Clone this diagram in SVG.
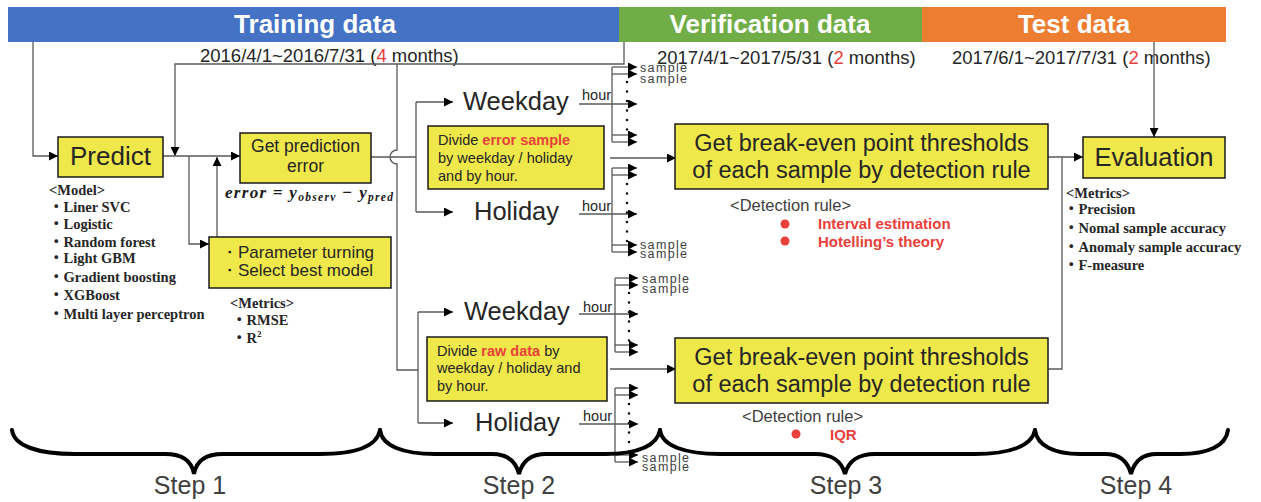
<svg xmlns="http://www.w3.org/2000/svg" width="1261" height="502" viewBox="0 0 1261 502">
<style>
.hdr{font-family:"Liberation Sans",Arial,sans-serif;font-weight:bold;font-size:26px;fill:#fff;text-anchor:middle}
.date{font-family:"Liberation Sans",Arial,sans-serif;font-size:18.5px;fill:#262626}
.red{fill:#E8403A}
.box{fill:#EFE84A;stroke:#1a1a1a;stroke-width:1.5}
.bt{font-family:"Liberation Sans",Arial,sans-serif;fill:#262626}
.ser{font-family:"Liberation Serif","Times New Roman","Noto Sans CJK JP",serif;font-weight:bold;font-size:14.5px;fill:#262626}
.cn{fill:none;stroke:#595959;stroke-width:1.3}
.ca{fill:none;stroke:#595959;stroke-width:1.3;marker-end:url(#arr)}
.dots{fill:none;stroke:#111;stroke-width:2.6;stroke-linecap:round;stroke-dasharray:0 9.5}
.smp{font-family:"Liberation Sans",Arial,sans-serif;font-size:12.5px;fill:#404040}
.brace{fill:none;stroke:#000;stroke-width:4;stroke-linecap:round}
.step{font-family:"Liberation Sans",Arial,sans-serif;font-size:25px;fill:#404040;text-anchor:middle}
.rule{font-family:"Liberation Sans",Arial,sans-serif;font-size:16.5px;fill:#404040}
.rb{font-family:"Liberation Sans",Arial,sans-serif;font-weight:bold;font-size:15px;fill:#E8403A}
</style>
<defs>
<marker id="arr" viewBox="0 0 10 10" refX="10" refY="5" markerWidth="9" markerHeight="9" markerUnits="userSpaceOnUse" orient="auto">
<path d="M0,0 L10,5 L0,10 z" fill="#000"/>
</marker>
</defs>

<g id="headers">
<rect x="8" y="7" width="611" height="35" fill="#4472C4"/>
<rect x="619" y="7" width="303" height="35" fill="#70AD47"/>
<rect x="922" y="7" width="304" height="35" fill="#ED7D31"/>
<text class="hdr" x="315" y="33">Training data</text>
<text class="hdr" x="770" y="33">Verification data</text>
<text class="hdr" x="1074" y="33">Test data</text>
<text class="date" x="200" y="62">2016/4/1~2016/7/31 (<tspan class="red">4</tspan> months)</text>
<text class="date" x="657" y="64">2017/4/1~2017/5/31 (<tspan class="red">2</tspan> months)</text>
<text class="date" x="952" y="64">2017/6/1~2017/7/31 (<tspan class="red">2</tspan> months)</text>
</g>

<g id="connectors">
<path class="ca" d="M33,42 V156 H58"/>
<path class="ca" d="M624,42 V64 H175 V156"/>
<path class="ca" d="M163,156 H240"/>
<path class="ca" d="M189,156 V244 H209"/>
<path class="ca" d="M217,237 V157"/>
<path class="cn" d="M371,157 H416"/>
<path class="cn" d="M397,64 V150 A7,7 0 0 0 397,164 V370 H418"/>
<path class="cn" d="M416,102 V212"/>
<path class="ca" d="M416,102 H453"/>
<path class="ca" d="M416,212 H453"/>
<path class="cn" d="M418,312 V423"/>
<path class="ca" d="M418,312 H453"/>
<path class="ca" d="M418,423 H453"/>
<path class="ca" d="M610,158 H676"/>
<path class="ca" d="M610,369 H676"/>
<path class="ca" d="M1048,157 H1083"/>
<path class="cn" d="M1048,369 H1062 V157"/>
<path class="ca" d="M1154,42 V137"/>
<!-- fan-out: top weekday -->
<path class="cn" d="M612,67 V142"/>
<path class="ca" d="M612,67 H637"/>
<path class="ca" d="M612,74 H637"/>
<path class="ca" d="M579,104 H637"/>
<path class="ca" d="M612,135 H637"/>
<path class="ca" d="M612,142 H637"/>
<path class="dots" d="M627,82 V133"/>
<!-- fan-out: top holiday -->
<path class="cn" d="M612,168 V252"/>
<path class="ca" d="M612,168 H637"/>
<path class="ca" d="M612,175 H637"/>
<path class="ca" d="M579,214 H637"/>
<path class="ca" d="M612,245 H637"/>
<path class="ca" d="M612,252 H637"/>
<path class="dots" d="M627,184 V243"/>
<!-- fan-out: bottom weekday -->
<path class="cn" d="M615,278 V352"/>
<path class="ca" d="M615,278 H638"/>
<path class="ca" d="M615,285 H638"/>
<path class="ca" d="M579,314 H638"/>
<path class="ca" d="M615,345 H638"/>
<path class="ca" d="M615,352 H638"/>
<path class="dots" d="M629,293 V343"/>
<!-- fan-out: bottom holiday -->
<path class="cn" d="M615,388 V462"/>
<path class="ca" d="M615,388 H638"/>
<path class="ca" d="M615,395 H638"/>
<path class="ca" d="M579,424 H638"/>
<path class="ca" d="M615,455 H638"/>
<path class="ca" d="M615,462 H638"/>
<path class="dots" d="M629,404 V453"/>
</g>

<g id="predict">
<rect class="box" x="58" y="137" width="105" height="40"/>
<text class="bt" x="110.5" y="165" font-size="26" text-anchor="middle">Predict</text>
<text class="ser" x="49" y="195">&lt;Model&gt;</text>
<text class="ser" x="49" y="212">・Liner SVC</text>
<text class="ser" x="49" y="229">・Logistic</text>
<text class="ser" x="49" y="247">・Random forest</text>
<text class="ser" x="49" y="263">・Light GBM</text>
<text class="ser" x="49" y="282">・Gradient boosting</text>
<text class="ser" x="49" y="300">・XGBoost</text>
<text class="ser" x="49" y="319">・Multi layer perceptron</text>
</g>

<g id="get-error">
<rect class="box" x="240" y="133" width="131" height="50"/>
<text class="bt" x="305.5" y="152" font-size="17.5" text-anchor="middle">Get prediction</text>
<text class="bt" x="305.5" y="172" font-size="17.5" text-anchor="middle">error</text>
<text x="225" y="198" font-family="'Liberation Serif','Times New Roman',serif" font-style="italic" font-weight="bold" font-size="17" fill="#1a1a1a" textLength="168" lengthAdjust="spacing">error = y<tspan font-size="11.5" dy="3">observ</tspan><tspan dy="-3"> − y</tspan><tspan font-size="11.5" dy="3">pred</tspan></text>
</g>

<g id="param">
<rect class="box" x="209" y="237" width="182" height="51"/>
<text class="bt" x="221" y="258" font-size="17" font-family="'Liberation Sans','Noto Sans CJK JP',sans-serif">・Parameter turning</text>
<text class="bt" x="221" y="276" font-size="17" font-family="'Liberation Sans','Noto Sans CJK JP',sans-serif">・Select best model</text>
<text class="ser" x="230" y="308">&lt;Metrics&gt;</text>
<text class="ser" x="232" y="325">・RMSE</text>
<text class="ser" x="232" y="343">・R<tspan font-size="9" dy="-6">2</tspan></text>
</g>

<g id="divide-error">
<text class="bt" x="463" y="110" font-size="25.5">Weekday</text>
<text class="bt" x="474" y="220" font-size="25.5">Holiday</text>
<text class="bt" x="582" y="100" font-size="14.5">hour</text>
<text class="bt" x="582" y="211" font-size="14.5">hour</text>
<rect class="box" x="428" y="126" width="176" height="63"/>
<text class="bt" x="438" y="144.5" font-size="14.5">Divide <tspan fill="#E8403A" font-weight="bold">error sample</tspan></text>
<text class="bt" x="438" y="163" font-size="14.5">by weekday / holiday</text>
<text class="bt" x="438" y="181" font-size="14.5">and by hour.</text>
<text class="smp" x="640" y="72" textLength="47">sample</text>
<text class="smp" x="640" y="83" textLength="47">sample</text>
<text class="smp" x="640" y="249" textLength="47">sample</text>
<text class="smp" x="640" y="258" textLength="47">sample</text>
</g>

<g id="divide-raw">
<text class="bt" x="464" y="320" font-size="25.5">Weekday</text>
<text class="bt" x="475" y="431" font-size="25.5">Holiday</text>
<text class="bt" x="583" y="312" font-size="14.5">hour</text>
<text class="bt" x="583" y="421" font-size="14.5">hour</text>
<rect class="box" x="427" y="337" width="180" height="64"/>
<text class="bt" x="437" y="356" font-size="14.5">Divide <tspan fill="#E8403A" font-weight="bold">raw data</tspan> by</text>
<text class="bt" x="437" y="373" font-size="14.5">weekday / holiday and</text>
<text class="bt" x="437" y="391" font-size="14.5">by hour.</text>
<text class="smp" x="642" y="283" textLength="47">sample</text>
<text class="smp" x="642" y="293" textLength="47">sample</text>
<text class="smp" x="642" y="462" textLength="47">sample</text>
<text class="smp" x="642" y="471" textLength="47">sample</text>
</g>

<g id="breakeven-1">
<rect class="box" x="675" y="124" width="373" height="65"/>
<text class="bt" x="861.5" y="151" font-size="23.5" text-anchor="middle">Get break-even point thresholds</text>
<text class="bt" x="861.5" y="178" font-size="23.5" text-anchor="middle">of each sample by detection rule</text>
<text class="rule" x="730" y="211">&lt;Detection rule&gt;</text>
<circle cx="785" cy="224" r="4.5" fill="#E8403A"/>
<circle cx="785" cy="241" r="4.5" fill="#E8403A"/>
<text class="rb" x="818" y="229">Interval estimation</text>
<text class="rb" x="818" y="247">Hotelling’s theory</text>
</g>

<g id="breakeven-2">
<rect class="box" x="675" y="338" width="373" height="65"/>
<text class="bt" x="861.5" y="365" font-size="23.5" text-anchor="middle">Get break-even point thresholds</text>
<text class="bt" x="861.5" y="392" font-size="23.5" text-anchor="middle">of each sample by detection rule</text>
<text class="rule" x="742" y="422">&lt;Detection rule&gt;</text>
<circle cx="796" cy="434" r="4.5" fill="#E8403A"/>
<text class="rb" x="830" y="440">IQR</text>
</g>

<g id="evaluation">
<rect class="box" x="1083" y="137" width="142" height="41"/>
<text class="bt" x="1154" y="166" font-size="25.5" text-anchor="middle">Evaluation</text>
<text class="ser" x="1066" y="198">&lt;Metrics&gt;</text>
<text class="ser" x="1064" y="214">・Precision</text>
<text class="ser" x="1064" y="233">・Nomal sample accuracy</text>
<text class="ser" x="1064" y="252">・Anomaly sample accuracy</text>
<text class="ser" x="1064" y="270">・F-measure</text>
</g>

<g id="steps">
<path class="brace" d="M12,430 C14,446 38,454 75,454 L165,454 C183,454 192,462 194,474 C196,462 205,454 223,454 L320,454 C357,454 377,446 380,430"/>
<path class="brace" d="M380,430 C382,446 403,454 435,454 L492,454 C508,454 516,462 519,474 C522,462 530,454 546,454 L605,454 C637,454 657,446 660,430"/>
<path class="brace" d="M660,430 C662,446 685,454 720,454 L815,454 C832,454 842,462 845,474 C848,462 858,454 875,454 L975,454 C1010,454 1032,446 1035,430"/>
<path class="brace" d="M1035,430 C1037,446 1055,454 1080,454 L1105,454 C1120,454 1128,462 1131,474 C1134,462 1142,454 1157,454 L1180,454 C1208,454 1226,446 1228,430"/>
<text class="step" x="190" y="494">Step 1</text>
<text class="step" x="519" y="494">Step 2</text>
<text class="step" x="846" y="494">Step 3</text>
<text class="step" x="1136" y="494">Step 4</text>
</g>
</svg>
